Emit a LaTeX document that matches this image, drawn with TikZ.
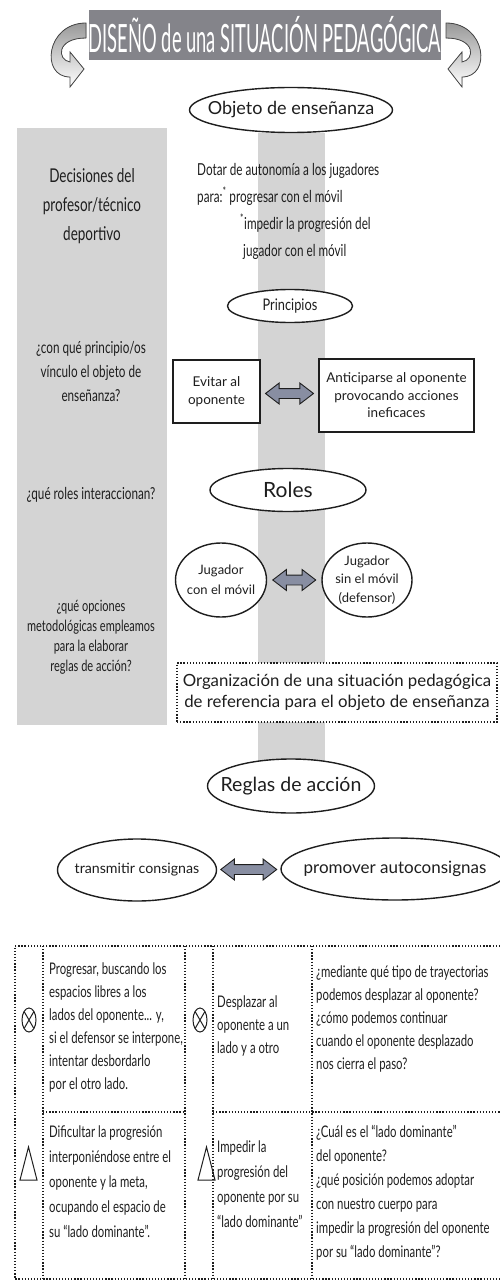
\documentclass[tikz,border=0pt]{standalone}
\usepackage{fontspec}
\setmainfont{Lato}
\newfontfamily\condfont[FakeStretch=0.71]{Lato}
\newfontfamily\semicond[FakeStretch=0.8]{Lato}
\newfontfamily\bannerfont[FakeStretch=0.47]{Lato}
\usetikzlibrary{shapes.geometric,shapes.arrows}
\definecolor{ink}{RGB}{30,30,30}
\definecolor{bandgray}{RGB}{212,212,212}
\definecolor{bannergray}{RGB}{132,132,138}
\definecolor{arrowblue}{RGB}{136,142,162}
\tikzset{
  outline/.style={draw=ink, line width=1.4pt, fill=white, text=ink, inner sep=0pt},
  oval/.style={outline, ellipse, inner sep=-30pt},
  box/.style={outline, rectangle, align=center, font=\fontsize{13.5}{17.5}\selectfont},
  dotline/.style={draw=ink, line width=1.3pt, dash pattern=on 1.3pt off 1.8pt},
  dotbox/.style={dotline, fill=white, text=ink, inner sep=0pt, align=center},
  dblarrow/.style={double arrow, draw=ink, line width=0.9pt, fill=arrowblue, inner sep=4.5pt,
    double arrow head extend=5.5pt, double arrow tip angle=75},
  question/.style={text=ink, align=center, font=\condfont\fontsize{16.5}{24}\selectfont},
  cell/.style={anchor=west, text=ink, align=left, inner sep=0pt, font=\condfont\fontsize{16}{23}\selectfont},
  twist/.style={draw=gray!55!black, line width=0.8pt, top color=gray!80, bottom color=white}
}
\newcommand{\ribbonarrow}{
  \filldraw[twist] (86,23) .. controls (46,23) and (40,77) .. (70,77) -- (70,87) -- (84,69)
    -- (70,52) -- (70,62) .. controls (57,60) and (56,38) .. (86,38) -- cycle;
}

\begin{document}
\begin{tikzpicture}[x=1pt, y=-1pt]
  \useasboundingbox (0,0) rectangle (499,1281);

  % --- Background columns ---
  \fill[bandgray] (17,128) rectangle (167,725);
  \fill[bandgray] (258,133) rectangle (325,762);

  % --- Title banner ---
  \ribbonarrow
  \begin{scope}[xshift=532pt, xscale=-1]
    \ribbonarrow
  \end{scope}
  \node[fill=bannergray, minimum width=350, minimum height=50, inner sep=0pt, text=white,
        font=\bannerfont\fontsize{39}{39}\selectfont] (title) at (265,35)
    {DISEÑO de una SITUACIÓN PEDAGÓGICA};

  % --- Left column: teacher decisions ---
  \node[question, font=\condfont\fontsize{19}{29}\selectfont] (decide) at (92,206)
    {Decisiones del\\profesor/técnico\\deportivo};
  \node[question] (qprinc) at (91,371) {¿con qué principio/os\\vínculo el objeto de\\enseñanza?};
  \node[question] (qroles) at (91,495) {¿qué roles interaccionan?};
  \node[question, font=\condfont\fontsize{15.5}{20}\selectfont] (qregla) at (91,637)
    {¿qué opciones\\metodológicas empleamos\\para la elaborar\\reglas de acción?};

  % --- Object and principles ---
  \node[oval, minimum width=203, minimum height=45, font=\fontsize{18}{18}\selectfont] (objeto) at (291,110)
    {Objeto de enseñanza};
  \node[cell, font=\condfont\fontsize{16.5}{27}\selectfont] (dotar) at (197,211)
    {Dotar de autonomía a los jugadores\\
     para:\textsuperscript{*} progresar con el móvil\\
     \hspace*{43pt}\textsuperscript{*}impedir la progresión del\\
     \hspace*{46pt}jugador con el móvil};
  \node[oval, minimum width=125, minimum height=33, font=\semicond\fontsize{16}{16}\selectfont] (princ) at (290,306)
    {Principios};
  \node[box, minimum width=87, minimum height=63] (evitar) at (216.5,391.5) {Evitar al\\oponente};
  \node[box, minimum width=155, minimum height=73] (anticipa) at (396.5,395.5)
    {Anticiparse al oponente\\provocando acciones\\ineficaces};
  \path (evitar.east) -- node[dblarrow, minimum height=48] {} (anticipa.west);

  % --- Roles ---
  \node[oval, minimum width=156, minimum height=43, font=\fontsize{21}{21}\selectfont] (roles) at (288,490)
    {Roles};
  \node[oval, minimum width=91, minimum height=74, align=center, font=\fontsize{13}{20}\selectfont] (jugcon) at (221,580)
    {Jugador\\con el móvil};
  \node[oval, minimum width=90, minimum height=74, align=center, font=\fontsize{13}{18.5}\selectfont] (jugsin) at (367,580)
    {Jugador\\sin el móvil\\(defensor)};
  \path (jugcon.east) -- node[dblarrow, minimum height=43] {} (jugsin.west);

  \node[dotbox, minimum width=320, minimum height=59, font=\fontsize{16.8}{21}\selectfont] (organiza) at (337,692.5)
    {Organización de una situación pedagógica\\de referencia para el objeto de enseñanza};

  % --- Action rules ---
  \node[oval, minimum width=167, minimum height=54, font=\fontsize{19.5}{19.5}\selectfont] (reglas) at (291,786)
    {Reglas de acción};
  \node[oval, minimum width=159, minimum height=62, font=\fontsize{14.2}{14.2}\selectfont] (transmite) at (137,870)
    {transmitir consignas};
  \node[oval, minimum width=228, minimum height=62, font=\fontsize{17}{17}\selectfont] (promueve) at (395,869)
    {promover autoconsignas};
  \path (transmite.east) -- node[dblarrow, minimum height=56] {} (promueve.west);

  % --- Table ---
  \draw[dotline] (500,946) -- (15,946) -- (15,1279) -- (500,1279);
  \foreach \xc in {43,185,213,312}
    \draw[dotline] (\xc,946) -- (\xc,1279);
  \draw[dotline] (43,1112) -- (185,1112);
  \draw[dotline] (213,1112) -- (500,1112);

  % symbols: attack (crossed circle) and defence (triangle)
  \foreach \sx/\tx in {29/28.5, 200/206.5} {
    \draw[ink, line width=1pt] (\sx,1020) ellipse [x radius=7, y radius=12];
    \draw[ink, line width=1pt] (\sx-4.9,1011.5) -- (\sx+4.9,1028.5)
                               (\sx-4.9,1028.5) -- (\sx+4.9,1011.5);
    \draw[ink, line width=1pt, line join=miter] (\tx-8.5,1180) -- (\tx+8.5,1180) -- (\tx,1147) -- cycle;
  }

  \node[cell] (progresa) at (49,1027.5)
    {Progresar, buscando los\\espacios libres a los\\lados del oponente... y,\\si el defensor se interpone,\\intentar desbordarlo\\por el otro lado.};
  \node[cell] (desplaza) at (217,1026) {Desplazar al\\oponente a un\\lado y a otro};
  \node[cell] (mediante) at (316,1019)
    {¿mediante qué tipo de trayectorias\\podemos desplazar al oponente?\\¿cómo podemos continuar\\cuando el oponente desplazado\\nos cierra el paso?};
  \node[cell, font=\condfont\fontsize{16}{25}\selectfont] (dificulta) at (49,1182)
    {Dificultar la progresión\\interponiéndose entre el\\oponente y la meta,\\ocupando el espacio de\\su “lado dominante”.};
  \node[cell, font=\condfont\fontsize{16}{25}\selectfont] (impide) at (217,1184.5)
    {Impedir la\\progresión del\\oponente por su\\“lado dominante”};
  \node[cell, font=\condfont\fontsize{16}{24}\selectfont] (cual) at (316,1192.5)
    {¿Cuál es el “lado dominante”\\del oponente?\\¿qué posición podemos adoptar\\con nuestro cuerpo para\\impedir la progresión del oponente\\por su “lado dominante”?};
\end{tikzpicture}
\end{document}
